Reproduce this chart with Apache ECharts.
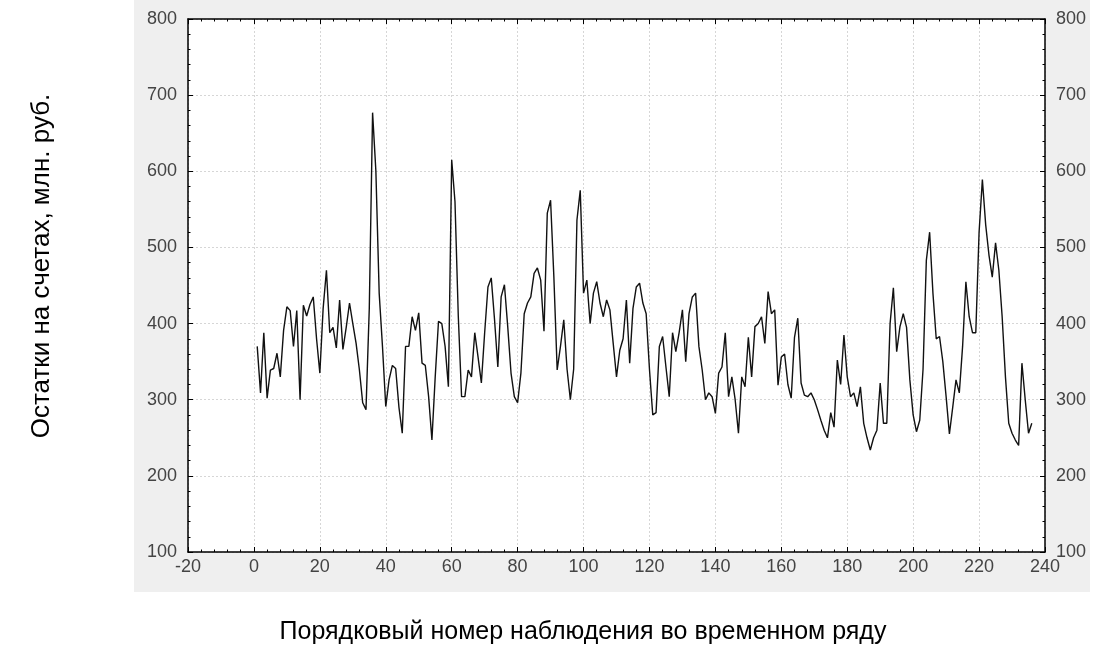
<!DOCTYPE html>
<html>
<head>
<meta charset="utf-8">
<title>Остатки на счетах</title>
<script src="https://cdn.jsdelivr.net/npm/echarts@6/dist/echarts.min.js"></script>
<style>
  html, body { margin: 0; padding: 0; background: #fff; }
  #chart { width: 1096px; height: 646px; }
</style>
</head>
<body>
<div id="chart"></div>
<script>
// остатки по порядковому номеру наблюдения (1..236)
const values = [
  370, 309, 388, 302, 339, 341, 361, 330, 391, 422,
  417, 370, 417, 300, 424, 410, 425, 435, 380, 335,
  420, 470, 388, 395, 368, 431, 366, 395, 427, 400,
  374, 339, 296, 287, 420, 677, 600, 440, 370, 291,
  326, 345, 341, 290, 256, 370, 370, 409, 391, 414,
  348, 345, 304, 247, 330, 403, 400, 370, 317, 615,
  560, 410, 304, 304, 339, 330, 388, 356, 322, 388,
  448, 460, 405, 343, 435, 451, 396, 335, 304, 296,
  335, 413, 427, 435, 466, 473, 457, 390, 545, 562,
  461, 339, 370, 405, 340, 300, 340, 536, 575, 440,
  457, 400, 440, 455, 427, 409, 431, 418, 374, 330,
  365, 380, 431, 348, 420, 448, 453, 427, 413, 340,
  280, 283, 370, 383, 343, 304, 388, 363, 388, 418,
  350, 413, 435, 440, 370, 339, 300, 309, 304, 282,
  335, 343, 388, 304, 330, 300, 256, 330, 317, 382,
  330, 396, 400, 409, 374, 442, 413, 418, 319, 356,
  360, 320, 302, 382, 407, 322, 306, 304, 309, 300,
  287, 273, 260, 250, 283, 264, 352, 320, 385, 330,
  304, 309, 291, 317, 269, 250, 234, 250, 260, 322,
  269, 269, 400, 447, 363, 396, 413, 395, 326, 280,
  258, 273, 340, 483, 520, 440, 380, 383, 350, 304,
  255, 290, 326, 309, 370, 455, 409, 388, 388, 520,
  589, 530, 490, 461, 506, 470, 409, 330, 269, 256,
  247, 240, 348, 300, 256, 269
]
const xTicks = [-20, 0, 20, 40, 60, 80, 100, 120, 140, 160, 180, 200, 220, 240]
const yTicks = [100, 200, 300, 400, 500, 600, 700, 800]

const xTitle = 'Порядковый номер наблюдения во временном ряду'
const yTitle = 'Остатки на счетах, млн. руб.'

const points = values.map((v, i) => [i + 1, v])

const chart = echarts.init(document.getElementById('chart'))

const font = 'Liberation Sans, Arial, sans-serif'
const gridLine = { show: true, lineStyle: { color: '#d6d6d6', type: [2, 2], width: 1 } }
const axisLine = { show: true, onZero: false, lineStyle: { color: '#000', width: 1.5 } }
const tick = { show: true, inside: true, length: 5, lineStyle: { color: '#000' } }
const minor = { show: true, splitNumber: 5, length: 2.5, lineStyle: { color: '#000' } }
const label = { color: '#444', fontSize: 18, fontFamily: font }

function xAxis(pos, showLabel) {
  return {
    type: 'value',
    position: pos,
    min: xTicks[0],
    max: xTicks[xTicks.length - 1],
    interval: 20,
    axisLine: axisLine,
    axisTick: tick,
    minorTick: minor,
    splitLine: showLabel ? gridLine : { show: false },
    axisLabel: Object.assign({ show: showLabel, margin: 6 }, label)
  }
}

function yAxis(pos, isLeft) {
  return {
    type: 'value',
    position: pos,
    min: yTicks[0],
    max: yTicks[yTicks.length - 1],
    interval: 100,
    axisLine: axisLine,
    axisTick: tick,
    minorTick: minor,
    splitLine: isLeft ? gridLine : { show: false },
    axisLabel: Object.assign({ margin: 11 }, label)
  }
}

chart.setOption({
  animation: false,
  backgroundColor: '#fff',
  graphic: [
    // серая подложка вокруг поля графика
    {
      type: 'rect',
      z: -10,
      shape: { x: 134, y: 0, width: 956, height: 592 },
      style: { fill: '#efefef' }
    },
    {
      type: 'rect',
      z: -9,
      shape: { x: 188, y: 19, width: 857, height: 533 },
      style: { fill: '#fff' }
    },
    // подписи осей стоят не по центру поля, поэтому отдельным текстом
    {
      type: 'text',
      x: 583,
      y: 632,
      style: {
        text: xTitle,
        fill: '#000',
        font: '25px ' + font,
        textAlign: 'center',
        textVerticalAlign: 'middle'
      }
    },
    {
      type: 'text',
      x: 42,
      y: 266,
      rotation: Math.PI / 2,
      style: {
        text: yTitle,
        fill: '#000',
        font: '26px ' + font,
        textAlign: 'center',
        textVerticalAlign: 'middle'
      }
    }
  ],
  grid: { left: 188, right: 51, top: 19, bottom: 94, containLabel: false },
  xAxis: [xAxis('bottom', true), xAxis('top', false)],
  yAxis: [yAxis('left', true), yAxis('right', false)],
  series: [
    {
      type: 'line',
      data: points,
      showSymbol: false,
      lineStyle: { color: '#111', width: 1.4 }
    }
  ]
})

window.addEventListener('resize', function () {
  chart.resize()
})
</script>
</body>
</html>
